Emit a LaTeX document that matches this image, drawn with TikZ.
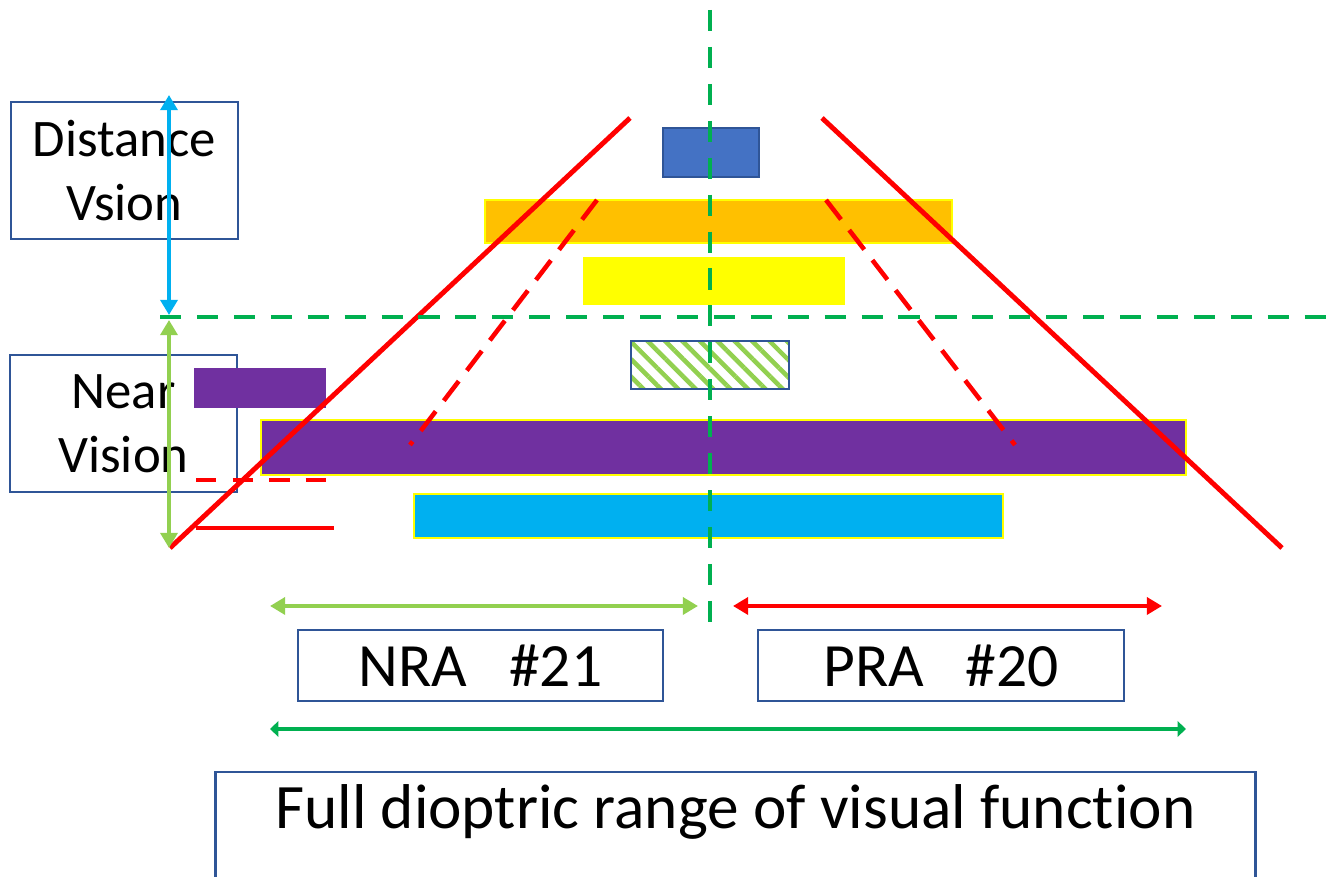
\documentclass[tikz,border=0pt]{standalone}
\usepackage{fontspec}
\setmainfont{Carlito}[Ligatures=NoCommon]
\usepackage{tikz}
\usetikzlibrary{arrows.meta}
\usetikzlibrary{patterns.meta}
\usetikzlibrary{positioning}
\definecolor{boxblue}{HTML}{2F5597}
\definecolor{barblue}{HTML}{4472C4}
\definecolor{barorange}{HTML}{FFC000}
\definecolor{baryellow}{HTML}{FFFF00}
\definecolor{barpurple}{HTML}{7030A0}
\definecolor{barcyan}{HTML}{00B0F0}
\definecolor{lgreen}{HTML}{92D050}
\definecolor{dgreen}{HTML}{00B050}
\definecolor{lred}{HTML}{FF0000}

\begin{document}
\begin{tikzpicture}[
			x=0.01cm, y=-0.01cm,
			labelbox/.style={rectangle, draw=boxblue, line width=0.7pt, fill=white, align=center},
			sidefont/.style={font=\fontsize{15}{18.2}\selectfont},
			bigfont/.style={font=\fontsize{17.5}{21}\selectfont},
			bar/.style={draw=baryellow, line width=0.8pt},
			redline/.style={lred, line width=1.4pt},
			reddash/.style={lred, line width=1.3pt, dash pattern=on 7pt off 3.8pt},
			axisdash/.style={dgreen, line width=1.4pt, dash pattern=on 6pt off 4.5pt},
			rangearrow/.style={<->, line width=1.1pt, >={Triangle[length=4.3pt, width=4.8pt]}}
		]
		\useasboundingbox (0,0) rectangle (1329,877);

		% Label boxes
		\node[labelbox, sidefont, minimum width=2.27cm, minimum height=1.37cm] (dist) at (124.5,170.5) {Distance\\Vsion};
		\node[labelbox, sidefont, minimum width=2.27cm, minimum height=1.37cm] (near) at (123.5,423.5) {Near\\Vision};

		% Bars
		\filldraw[fill=barblue, draw=boxblue, line width=0.6pt] (663,128) rectangle (759,177);
		\filldraw[bar, fill=barorange] (485,200) rectangle (952,243);
		\fill[baryellow] (583,257) rectangle (845,305);
		\draw[boxblue, line width=0.7pt, pattern={Lines[angle=-45, distance=3.5pt, line width=1.3pt]}, pattern color=lgreen] (631,341) rectangle (789,389);
		\fill[barpurple] (194,368) rectangle (326,408);
		\filldraw[bar, fill=barpurple] (261,420) rectangle (1186,475);
		\filldraw[bar, fill=barcyan] (414,494) rectangle (1003,538);

		% Red limits
		\draw[redline] (170,548) -- (630,118);
		\draw[redline] (822,118) -- (1282,548);
		\draw[reddash] (597,200) -- (410,445);
		\draw[reddash] (826,200) -- (1015,445);
		\draw[lred, line width=1.4pt, dash pattern=on 5.8pt off 4.6pt] (196,480) -- (330,480);
		\draw[redline] (196,528) -- (334,528);

		% Green axes
		\draw[axisdash] (160,317) -- (1329,317);
		\draw[axisdash] (710,10) -- (710,632);

		% Vertical ranges
		\coordinate (dtop) at (169,95);
		\coordinate (dbot) at (169,315);
		\coordinate (ntop) at (169,320);
		\coordinate (nbot) at (169,548);
		\draw[rangearrow, barcyan] (dtop) -- (dbot);
		\draw[rangearrow, lgreen] (ntop) -- (nbot);

		% Accommodation ranges
		\node[labelbox, bigfont, minimum width=3.65cm, minimum height=0.71cm] (nra) at (480.5,665.5) {NRA~~~\#21};
		\node[labelbox, bigfont, minimum width=3.66cm, minimum height=0.71cm] (pra) at (941,665.5) {PRA~~~\#20};
		\coordinate (nraL) at (270,606);
		\coordinate (nraR) at (698,606);
		\coordinate (praL) at (733,606);
		\coordinate (praR) at (1162,606);
		\draw[rangearrow, lgreen] (nraL) -- (nraR);
		\draw[rangearrow, lred] (praL) -- (praR);

		% Full range
		\coordinate (fullL) at (270,729);
		\coordinate (fullR) at (1186,729);
		\draw[<->, dgreen, line width=1.1pt, >={Triangle[length=2.4pt, width=4.4pt]}] (fullL) -- (fullR);
		\node[labelbox, font=\fontsize{18}{22}\selectfont, anchor=north, minimum width=10.39cm, inner ysep=0pt, text height=0.56cm, text depth=0.8cm] (full) at (735.5,771) {Full dioptric range of visual func\kern0pt tion};

	\end{tikzpicture}
\end{document}
